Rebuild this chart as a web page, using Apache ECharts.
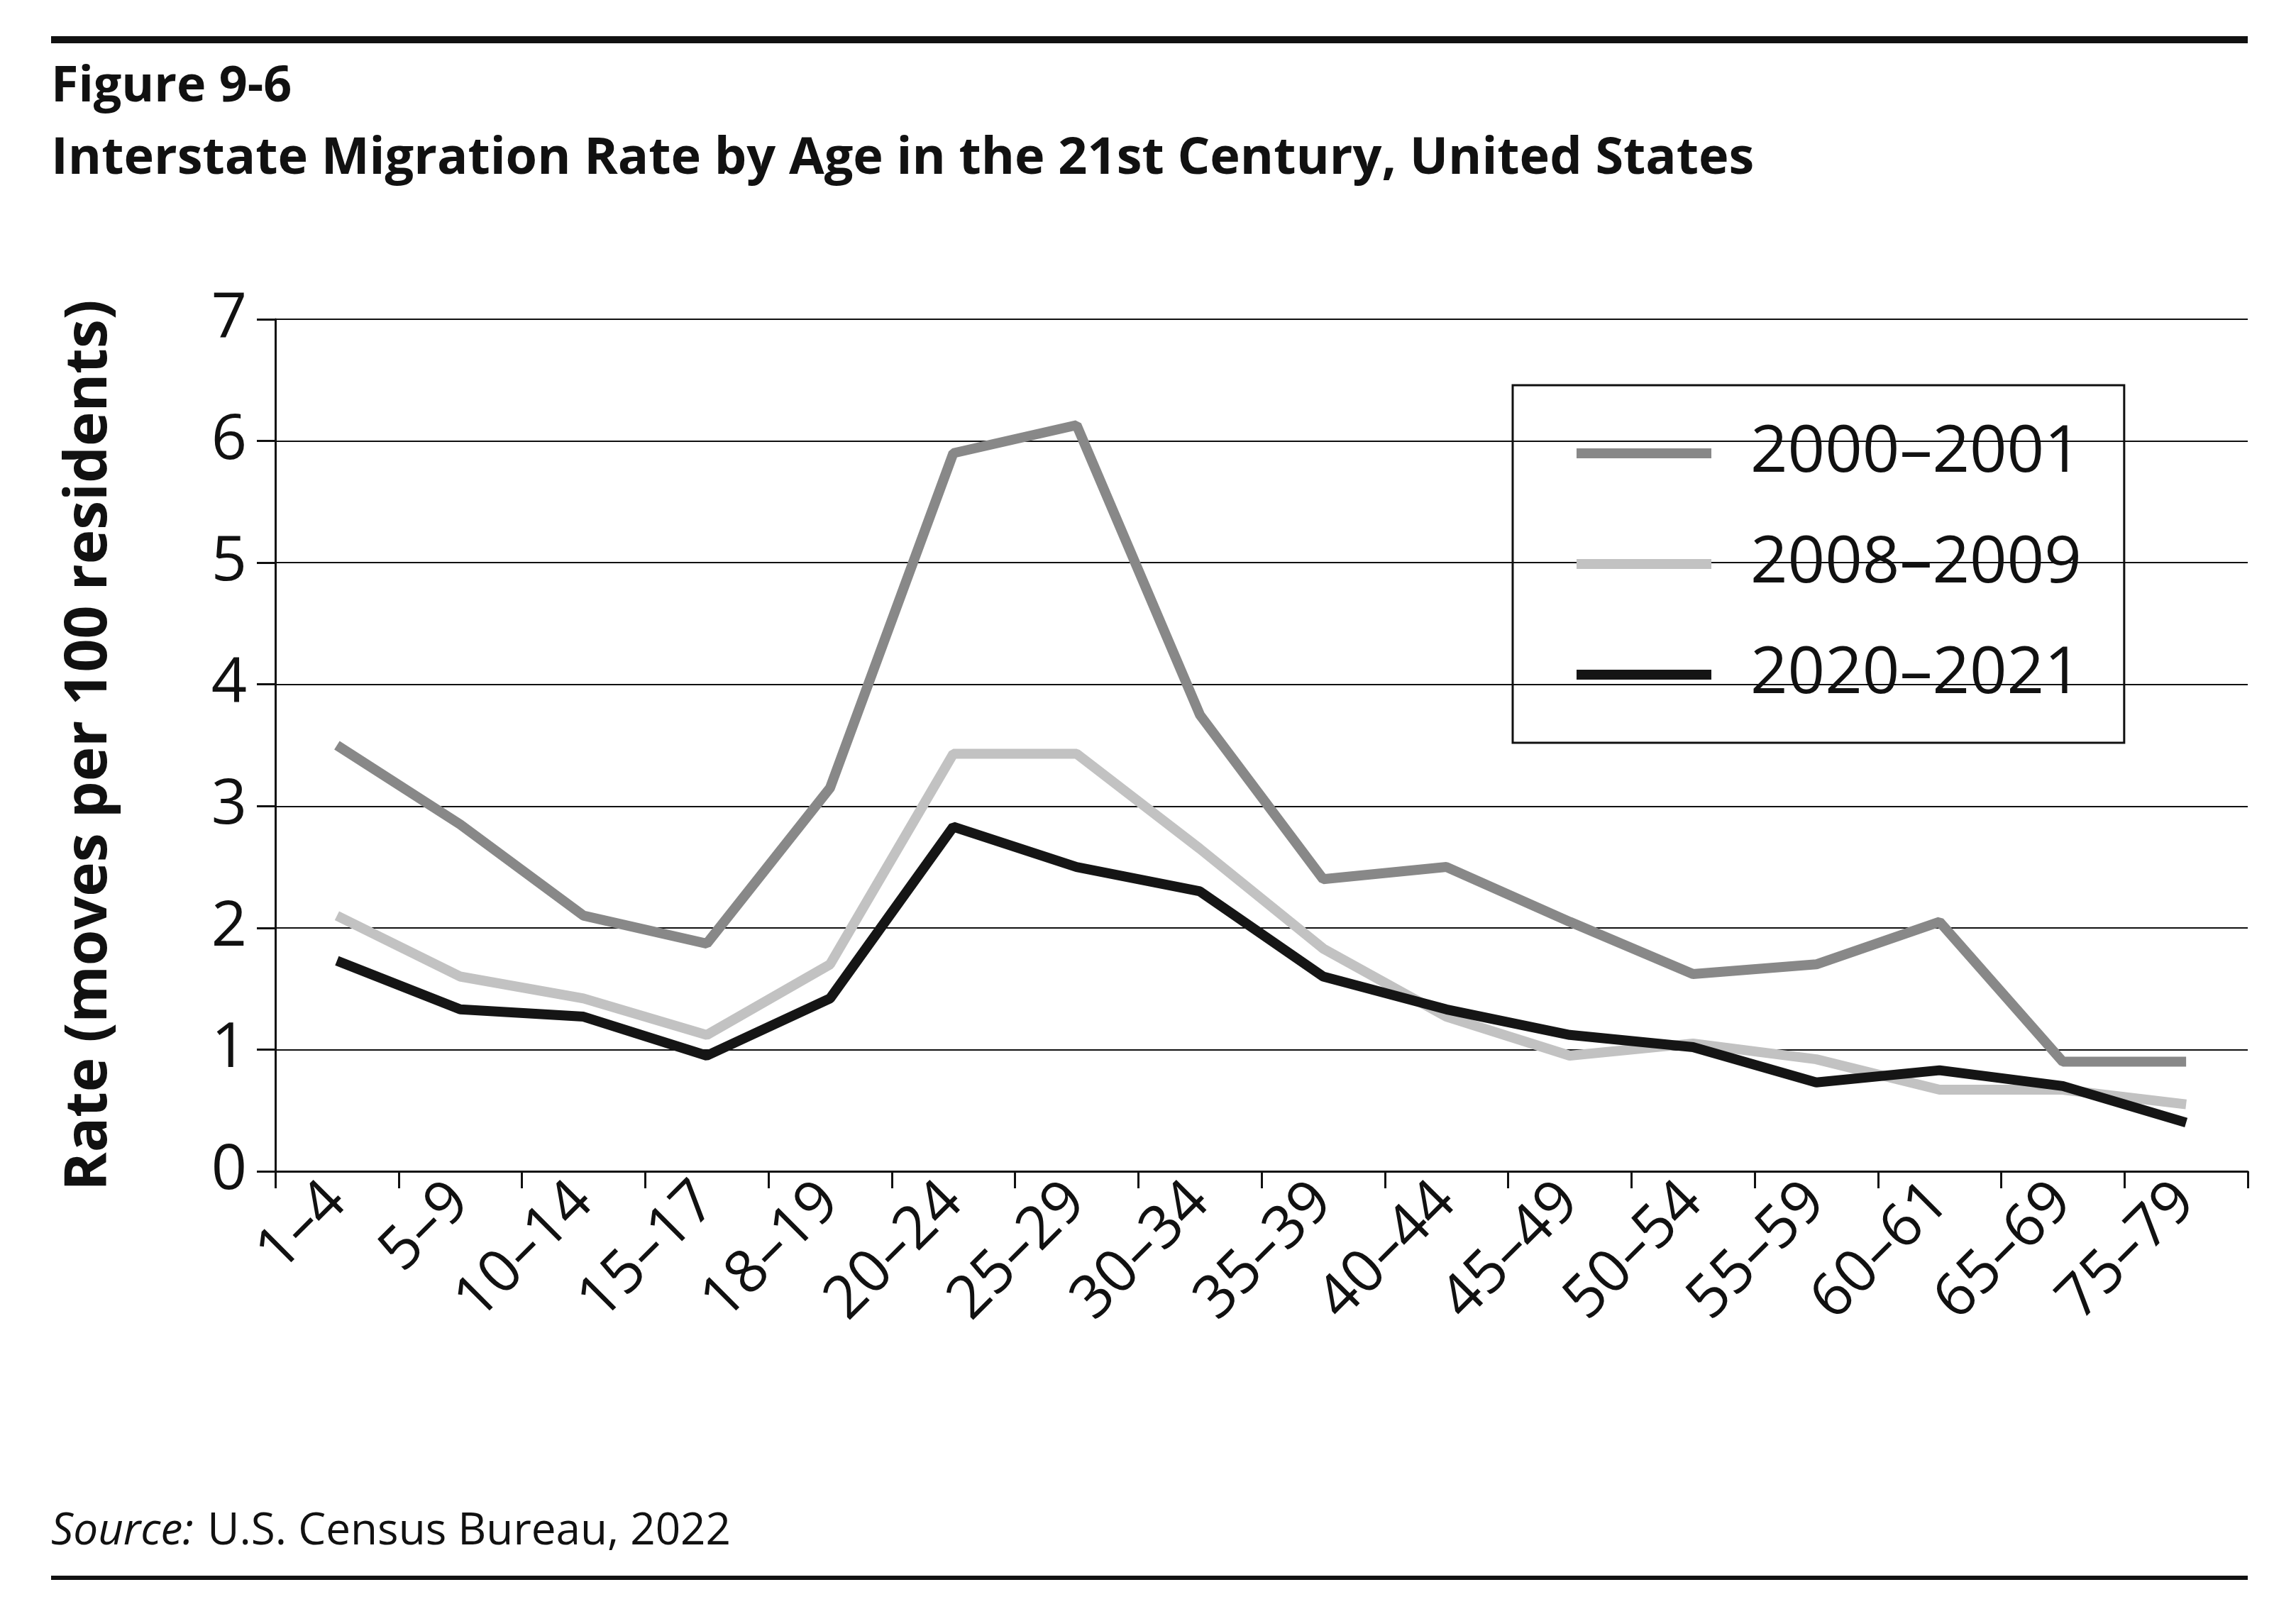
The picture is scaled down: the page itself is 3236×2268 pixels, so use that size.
<!DOCTYPE html>
<html>
<head>
<meta charset="utf-8" />
<title>Figure 9-6</title>
<script src="https://cdn.jsdelivr.net/npm/echarts@6/dist/echarts.min.js"></script>
<style>html,body{margin:0;background:#fff}</style>
</head>
<body>
<div id="main" style="width:3236px;height:2268px;"></div>
<script type="text/javascript">
var ages = ['1–4','5–9','10–14','15–17','18–19','20–24','25–29','30–34','35–39','40–44','45–49','50–54','55–59','60–61','65–69','75–79'];
var rate2000 = [3.5, 2.85, 2.1, 1.87, 3.15, 5.9, 6.13, 3.75, 2.4, 2.5, 2.05, 1.62, 1.7, 2.05, 0.9, 0.9];
var rate2008 = [2.1, 1.6, 1.42, 1.12, 1.7, 3.43, 3.43, 2.65, 1.83, 1.27, 0.95, 1.05, 0.92, 0.67, 0.67, 0.55];
var rate2020 = [1.73, 1.33, 1.27, 0.95, 1.42, 2.83, 2.5, 2.3, 1.6, 1.33, 1.12, 1.02, 0.73, 0.83, 0.7, 0.4];
var yTicks = [0, 1, 2, 3, 4, 5, 6, 7];

var font = '"Open Sans", "Noto Sans", sans-serif';
var chart = echarts.init(document.getElementById('main'));
var option = {
  animation: false,
  backgroundColor: '#fff',
  textStyle: {fontFamily: font, color: '#111'},
  graphic: [
    {type: 'rect', shape: {x: 72, y: 51, width: 3096, height: 10}, style: {fill: '#111'}},
    {type: 'rect', shape: {x: 72, y: 2221, width: 3096, height: 6}, style: {fill: '#111'}},
    {type: 'text', left: 72, top: 88, style: {text: 'Figure 9-6', font: 'bold 70px ' + font, fill: '#111'}},
    {type: 'text', left: 72, top: 188, style: {text: 'Interstate Migration Rate by Age in the 21st Century, United States', font: 'bold 72px ' + font, fill: '#111'}},
    {type: 'text', left: 72, top: 2128, style: {rich: {i: {font: 'italic 62px ' + font, fill: '#111'}, n: {font: '62px ' + font, fill: '#111'}}, text: '{i|Source:} {n| U.S. Census Bureau, 2022}'}}
  ],
  grid: {left: 388, right: 68, top: 450, bottom: 617},
  legend: {
    orient: 'vertical',
    left: 2132, top: 543,
    width: 857, height: 495,
    padding: [50, 60, 50, 90],
    itemGap: 64,
    itemWidth: 190, itemHeight: 14,
    borderColor: '#111', borderWidth: 3,
    icon: 'rect',
    textStyle: {fontSize: 92, fontFamily: font, color: '#111', padding: [0, 0, 0, 50]},
    data: ['2000–2001', '2008–2009', '2020–2021']
  },
  xAxis: {
    type: 'category',
    data: ages,
    boundaryGap: true,
    axisLine: {lineStyle: {color: '#111', width: 3}},
    axisTick: {show: true, length: 24, lineStyle: {color: '#111', width: 3}},
    axisLabel: {rotate: 45, fontSize: 84, fontFamily: font, color: '#111', margin: 30}
  },
  yAxis: {
    type: 'value',
    min: 0, max: 7, interval: 1,
    name: 'Rate (moves per 100 residents)',
    nameLocation: 'middle',
    nameGap: 220,
    nameTextStyle: {fontSize: 82, fontWeight: 'bold', fontFamily: font, color: '#111'},
    axisLine: {show: true, lineStyle: {color: '#111', width: 3}},
    axisTick: {show: true, length: 26, lineStyle: {color: '#111', width: 3}},
    axisLabel: {fontSize: 88, fontFamily: font, color: '#111', margin: 40,
      formatter: function (v) { return yTicks.indexOf(v) >= 0 ? String(v) : ''; }},
    splitLine: {lineStyle: {color: '#111', width: 2}}
  },
  series: [
    {name: '2000–2001', type: 'line', data: rate2000, symbol: 'none', color: '#888888', lineStyle: {width: 14, color: '#888888'}},
    {name: '2008–2009', type: 'line', data: rate2008, symbol: 'none', color: '#c2c2c2', lineStyle: {width: 14, color: '#c2c2c2'}},
    {name: '2020–2021', type: 'line', data: rate2020, symbol: 'none', color: '#151515', lineStyle: {width: 14, color: '#151515'}}
  ]
};
chart.setOption(option);
</script>
</body>
</html>
